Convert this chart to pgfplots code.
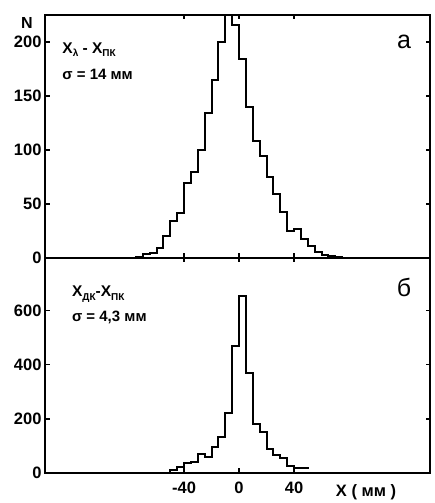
\documentclass[border=0pt]{standalone}
\usepackage{pgfplots}
\pgfplotsset{compat=1.18}
\usepackage{fontspec}
\setmainfont{Liberation Sans}
\newcommand{\sub}[1]{\raisebox{-0.45ex}{\fontsize{10}{10}\selectfont #1}}
\begin{document}
\begin{tikzpicture}
\path[use as bounding box] (0pt,0pt) rectangle (434pt,503pt);
\pgfplotsset{
  every axis/.append style={
    scale only axis, width=385pt, xmin=-141.1, xmax=138.9,
    axis line style={line width=1.8pt},
    tick style={line width=1.2pt, black},
    major tick length=4.5pt,
    xtick={-40,0,40},
    /pgf/number format/assume math mode=true,
    ticklabel style={font=\fontsize{16.5}{18}\selectfont\bfseries},
  }
}
\begin{axis}[at={(45pt,245pt)}, anchor=south west, height=243pt,
  ymin=0, ymax=225, ytick={0,50,100,150,200}, xticklabels={}]
\addplot[const plot, black, line width=2pt] coordinates {
(-80,0) (-75,1) (-70,4) (-65,5) (-60,9) (-55,20) (-50,34) (-45,42) (-40,69)
(-35,80) (-30,100) (-25,134) (-20,165) (-15,200) (-10,240) (-5,216) (0,184)
(5,140) (10,108) (15,94) (20,75) (25,59) (30,43) (35,25) (40,27) (45,18)
(50,11) (55,6) (60,3) (65,2) (70,1) (75,0) (80,0)};
\node[anchor=west, font=\fontsize{15.5}{17}\selectfont\bfseries] at (axis cs:-131,193) {X\sub{λ} - X\sub{ПК}};
\node[anchor=west, font=\fontsize{15}{17}\selectfont\bfseries] at (axis cs:-131,170) {σ = 14 мм};
\node[font=\fontsize{25}{27}\selectfont] at (axis cs:120,200) {а};
\end{axis}
\begin{axis}[at={(45pt,30pt)}, anchor=south west, height=215pt,
  ymin=0, ymax=795, ytick={0,200,400,600},
  xticklabel style={yshift=-5pt}]
\addplot[const plot, black, line width=2pt] coordinates {
(-50,0) (-50,10) (-45,22) (-40,38) (-35,40) (-30,72) (-25,58) (-20,95)
(-15,133) (-10,222) (-5,470) (0,655) (5,369) (10,182) (15,151) (20,87)
(25,66) (30,55) (35,26) (40,19) (51,19)};
\node[anchor=west, font=\fontsize{15.5}{17}\selectfont\bfseries] at (axis cs:-124,660) {X\sub{ДК}-X\sub{ПК}};
\node[anchor=west, font=\fontsize{15}{17}\selectfont\bfseries] at (axis cs:-124,575) {σ = 4,3 мм};
\node[font=\fontsize{25}{27}\selectfont] at (axis cs:120,685) {б};
\end{axis}
\node[font=\fontsize{16}{18}\selectfont\bfseries] at (27pt,480pt) {N};
\node[font=\fontsize{16.5}{18}\selectfont\bfseries] at (366pt,10.5pt) {X ( мм )};
\end{tikzpicture}
\end{document}
